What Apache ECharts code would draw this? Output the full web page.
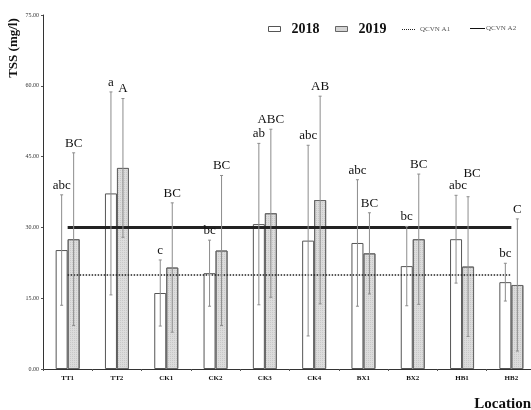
<!DOCTYPE html>
<html><head><meta charset="utf-8">
<script src="https://cdn.jsdelivr.net/npm/echarts@6/dist/echarts.min.js"></script>
<style>html,body{margin:0;padding:0;background:#fff}#c{width:531px;height:410px}</style>
</head><body><div id="c"></div>
<script>
const locations = ['TT1','TT2','CK1','CK2','CK3','CK4','BX1','BX2','HB1','HB2'];
const mean2018 = [25.2, 37.2, 16.1, 20.3, 30.7, 27.2, 26.7, 21.8, 27.5, 18.4];
const sd2018   = [11.7, 21.5,  7.0,  7.0, 17.1, 20.2, 13.4,  8.4,  9.3,  4.0];
const mean2019 = [27.5, 42.6, 21.5, 25.1, 33.0, 35.8, 24.5, 27.5, 21.7, 17.8];
const sd2019   = [18.3, 14.7, 13.7, 15.9, 17.8, 22.0,  8.6, 13.8, 14.8, 14.0];
const letters2018 = ['abc','a','c','bc','ab','abc','abc','bc','abc','bc'];
const letters2019 = ['BC','A','BC','BC','ABC','AB','BC','BC','BC','C'];
const yMin = 0, yMax = 75, yStep = 15;
const qcvnA1 = 20, qcvnA2 = 30;

const BAR_W = 12;
const SERIF = '"Liberation Serif","Times New Roman",serif';
// small manual label nudges (pixels) to avoid overlaps, as in the original figure
const labelNudge2018 = { 8: [2, 0] };
const labelNudge2019 = { 8: [4, -14] };

function errData(means, sds) {
  return means.map((m, i) => [i, m - sds[i], m + sds[i]]);
}
function errRender(offset, letters, nudge) {
  return function (params, api) {
    const i = api.value(0);
    const lo = api.coord([i, api.value(1)]);
    const hi = api.coord([i, api.value(2)]);
    const x = lo[0] + offset;
    const cap = 1.5;
    const nd = nudge[params.dataIndex] || [0, 0];
    const st = { stroke: '#8c8c8c', lineWidth: 1 };
    return {
      type: 'group',
      children: [
        { type: 'line', shape: { x1: x, y1: lo[1], x2: x, y2: hi[1] }, style: st },
        { type: 'line', shape: { x1: x - cap, y1: lo[1], x2: x + cap, y2: lo[1] }, style: st },
        { type: 'line', shape: { x1: x - cap, y1: hi[1], x2: x + cap, y2: hi[1] }, style: st },
        { type: 'text', x: x + nd[0], y: hi[1] - 3 + nd[1],
          style: { text: letters[params.dataIndex], fontFamily: SERIF, fontSize: 13,
                   fill: '#111', align: 'center', verticalAlign: 'bottom' } }
      ]
    };
  };
}

const dotsPath = 'path://M0 0h1v1h-1z M2 0h1v1h-1z M4 0h1v1h-1z M6 0h1v1h-1z M8 0h1v1h-1z M10 0h1v1h-1z M12 0h1v1h-1z';
const solidPath = 'path://M0 0h15v1h-15z';

const chart = echarts.init(document.getElementById('c'));
chart.setOption({
  animation: false,
  backgroundColor: '#fff',
  grid: { left: 43, top: 15, width: 493, height: 354, containLabel: false, outerBoundsMode: 'none' },
  legend: [
    { data: [{ name: '2018', icon: 'rect' }], left: 263, top: 17, itemWidth: 12, itemHeight: 5,
      itemStyle: { borderWidth: 1, borderColor: '#555', color: '#fff' },
      textStyle: { fontFamily: SERIF, fontSize: 14, fontWeight: 'bold', color: '#111', padding: [0, 0, 0, 6] } },
    { data: [{ name: '2019', icon: 'rect' }], left: 330, top: 17, itemWidth: 12, itemHeight: 5,
      itemStyle: { borderWidth: 1, borderColor: '#666', color: '#d4d4d4', decal: 'none' },
      textStyle: { fontFamily: SERIF, fontSize: 14, fontWeight: 'bold', color: '#111', padding: [0, 0, 0, 6] } },
    { data: [{ name: 'QCVN A1', icon: dotsPath }], left: 397, top: 21, itemWidth: 13, itemHeight: 1.5,
      itemStyle: { color: '#222', borderWidth: 0 },
      textStyle: { fontFamily: SERIF, fontSize: 7, color: '#555' } },
    { data: [{ name: 'QCVN A2', icon: solidPath }], left: 465, top: 20, itemWidth: 15, itemHeight: 3,
      itemStyle: { color: '#111', borderWidth: 0 },
      textStyle: { fontFamily: SERIF, fontSize: 7, color: '#555', padding: [0, 0, 0, -4] } }
  ],
  xAxis: {
    type: 'category', data: locations,
    axisLine: { lineStyle: { color: '#333', width: 1 } },
    axisTick: { show: true, length: 2, lineStyle: { color: '#555' } },
    axisLabel: { fontFamily: SERIF, fontSize: 7, fontWeight: 'bold', color: '#111', margin: 6 }
  },
  yAxis: {
    type: 'value', min: yMin, max: yMax, interval: yStep,
    axisLine: { show: true, lineStyle: { color: '#333', width: 1 } },
    axisTick: { show: true, length: 2, lineStyle: { color: '#555' } },
    splitLine: { show: false },
    axisLabel: { fontFamily: SERIF, fontSize: 6, color: '#333', margin: 4,
                 formatter: v => v.toFixed(2) }
  },
  graphic: [
    { type: 'text', x: 14, y: 48, rotation: Math.PI / 2,
      style: { text: 'TSS (mg/l)', fontFamily: SERIF, fontSize: 13, fontWeight: 'bold',
               fill: '#111', align: 'center', verticalAlign: 'middle' } },
    { type: 'text', x: 531, y: 404,
      style: { text: 'Location', fontFamily: SERIF, fontSize: 15, fontWeight: 'bold',
               fill: '#111', align: 'right', verticalAlign: 'middle' } }
  ],
  series: [
    { name: '2018', type: 'bar', data: mean2018, barWidth: BAR_W, barGap: '0%',
      itemStyle: { color: '#ffffff', borderColor: '#555', borderWidth: 1 } },
    { name: '2019', type: 'bar', data: mean2019, barWidth: BAR_W, barGap: '0%',
      itemStyle: { color: '#dcdcdc', borderColor: '#666', borderWidth: 1,
        decal: { symbol: 'rect', symbolSize: 1, dashArrayX: [1, 1], dashArrayY: [1, 1], color: 'rgba(140,140,140,0.25)' } } },
    { name: 'QCVN A1', type: 'line', data: [], symbol: 'none',
      lineStyle: { type: 'dotted', width: 1.5, color: '#222' }, itemStyle: { color: '#222' },
      markLine: { silent: true, symbol: ['none', 'none'], label: { show: false },
        lineStyle: { type: 'dotted', width: 1.5, color: '#222' },
        data: [[{ coord: [locations[0], qcvnA1] }, { coord: [locations[locations.length - 1], qcvnA1] }]] } },
    { name: 'QCVN A2', type: 'line', data: [], symbol: 'none',
      lineStyle: { type: 'solid', width: 3, color: '#222' }, itemStyle: { color: '#222' },
      markLine: { silent: true, symbol: ['none', 'none'], label: { show: false },
        lineStyle: { type: 'solid', width: 3, color: '#222' },
        data: [[{ coord: [locations[0], qcvnA2] }, { coord: [locations[locations.length - 1], qcvnA2] }]] } },
    { name: 'err2018', type: 'custom', data: errData(mean2018, sd2018), z: 5, clip: false,
      encode: { x: 0, y: [1, 2] }, renderItem: errRender(-BAR_W / 2, letters2018, labelNudge2018) },
    { name: 'err2019', type: 'custom', data: errData(mean2019, sd2019), z: 5, clip: false,
      encode: { x: 0, y: [1, 2] }, renderItem: errRender(BAR_W / 2, letters2019, labelNudge2019) }
  ]
});
</script></body></html>
